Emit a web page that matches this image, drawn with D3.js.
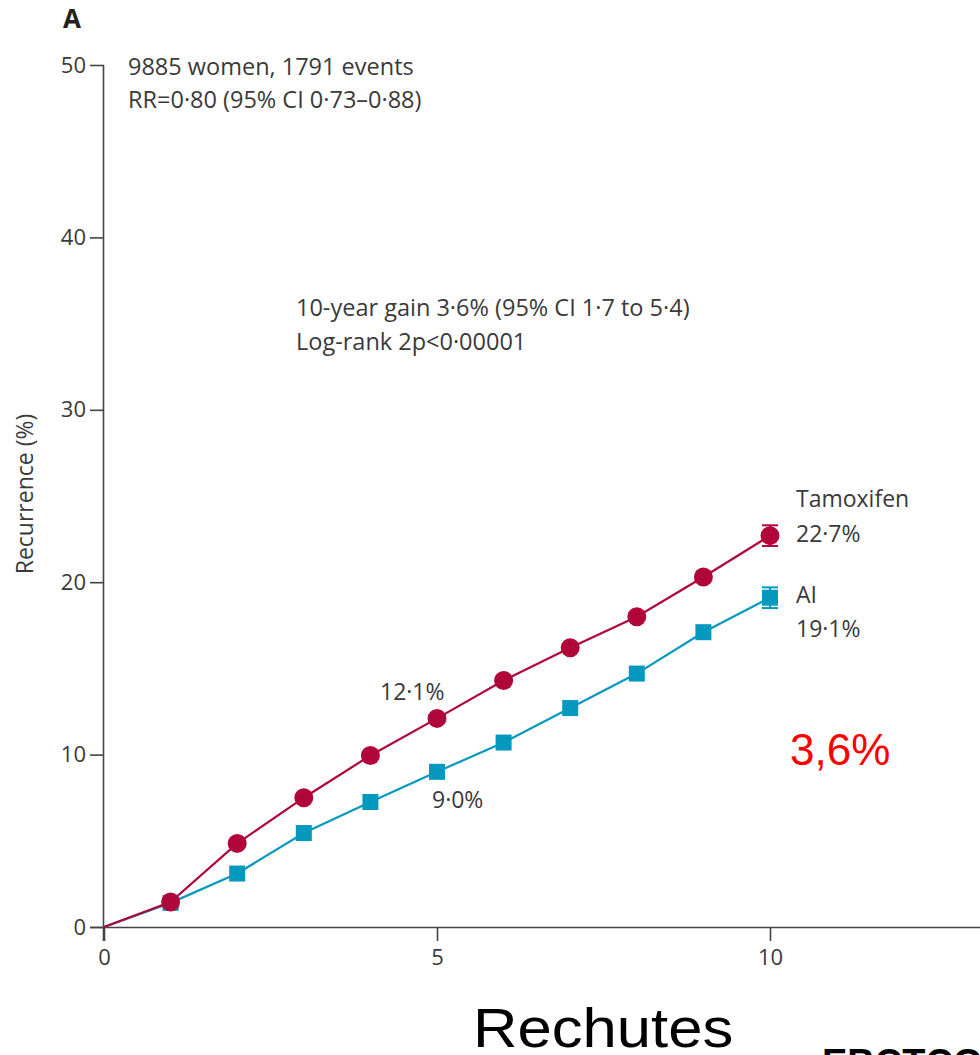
<!DOCTYPE html>
<html><head><meta charset="utf-8">
<script src="https://cdn.jsdelivr.net/npm/d3@7"></script>
<style>body{margin:0;background:#fff}svg{display:block}</style>
</head><body>
<script>
const years = [0,1,2,3,4,5,6,7,8,9,10];
const tamoxifen = [0,1.45,4.85,7.5,9.95,12.1,14.3,16.2,18.0,20.3,22.7];
const ai = [0,1.4,3.1,5.45,7.25,9.0,10.7,12.7,14.7,17.1,19.1];
const errTam = 0.6, errAI = 0.6;
const yTicks = [0,10,20,30,40,50];
const xTicks = [0,5,10];

const W=980,H=1055;
const svg=d3.select("body").append("svg").attr("width",W).attr("height",H);
const x=d3.scaleLinear().domain([0,10]).range([104,770]);
const y=d3.scaleLinear().domain([0,50]).range([927,65]);
const txt="#3a3a3a", font="'Open Sans', 'Noto Sans', sans-serif";
const cTam="#B0063A", cAI="#0599C0";

// axes
const ya=svg.append("g").attr("transform","translate(104,0)").call(d3.axisLeft(y).tickValues(yTicks).tickSize(14).tickSizeOuter(0).tickPadding(4));
const xa=svg.append("g").attr("transform","translate(0,927)").call(d3.axisBottom(x).tickValues(xTicks).tickSize(14).tickSizeOuter(0).tickPadding(8));
xa.select(".domain").attr("d","M90,0.5H980");
ya.select(".domain").attr("d","M-0.5,65V941");
[ya,xa].forEach(a=>{a.selectAll("path,line").attr("stroke","#444").attr("stroke-width",1.6);
 a.selectAll("text").attr("font-family",font).attr("font-size",22).attr("fill",txt);});

svg.append("text").attr("transform","translate(33,494) rotate(-90)").attr("text-anchor","middle")
 .attr("font-family",font).attr("font-size",23).attr("fill",txt).text("Recurrence (%)");

svg.append("text").attr("x",63).attr("y",28).attr("font-family",font).attr("font-size",26).attr("font-weight","bold").attr("fill","#222").text("A");

const ann=[["9885 women, 1791 events",128,75],["RR=0·80 (95% CI 0·73–0·88)",128,108],
 ["10-year gain 3·6% (95% CI 1·7 to 5·4)",296,316],["Log-rank 2p<0·00001",296,350]];
ann.forEach(a=>svg.append("text").attr("x",a[1]).attr("y",a[2]).attr("font-family",font).attr("font-size",23.5).attr("fill",txt).text(a[0]));

const line=d3.line().x((d,i)=>x(years[i])).y(d=>y(d));
svg.append("path").datum(ai).attr("d",line).attr("fill","none").attr("stroke",cAI).attr("stroke-width",2.2);
svg.append("path").datum(tamoxifen).attr("d",line).attr("fill","none").attr("stroke",cTam).attr("stroke-width",2.2);

// error bars at 10 years
function eb(v,e,c){const g=svg.append("g").attr("stroke",c).attr("stroke-width",2);
 g.append("line").attr("x1",x(10)).attr("x2",x(10)).attr("y1",y(v+e)).attr("y2",y(v-e));
 [v+e,v-e].forEach(t=>g.append("line").attr("x1",x(10)-8).attr("x2",x(10)+8).attr("y1",y(t)).attr("y2",y(t)));}
eb(ai[10],errAI,cAI); eb(tamoxifen[10],errTam,cTam);

svg.selectAll(".sq").data(ai.slice(1)).enter().append("rect")
 .attr("x",(d,i)=>x(years[i+1])-8).attr("y",d=>y(d)-8).attr("width",16).attr("height",16).attr("fill",cAI);
svg.selectAll(".ci").data(tamoxifen.slice(1)).enter().append("circle")
 .attr("cx",(d,i)=>x(years[i+1])).attr("cy",d=>y(d)).attr("r",9.5).attr("fill",cTam);

const lab=[["Tamoxifen",796,507],["22·7%",796,542],["AI",796,603],["19·1%",796,637],["12·1%",380,700],["9·0%",432,808]];
lab.forEach(a=>svg.append("text").attr("x",a[1]).attr("y",a[2]).attr("font-family",font).attr("font-size",23).attr("fill",txt).text(a[0]));

svg.append("text").attr("x",790).attr("y",765).attr("font-family","'Liberation Sans', Arial, sans-serif").attr("font-size",44).attr("fill","#ff0000").text("3,6%");
svg.append("text").attr("transform","translate(473,1047) scale(1.1,1)").attr("font-family","'Liberation Sans', Arial, sans-serif").attr("font-size",56).attr("fill","#000").text("Rechutes");
svg.append("text").attr("x",822).attr("y",1076).attr("font-family","'Liberation Sans', Arial, sans-serif").attr("font-size",38).attr("font-weight","bold").attr("fill","#000").text("EBCTCG");
</script>
</body></html>
